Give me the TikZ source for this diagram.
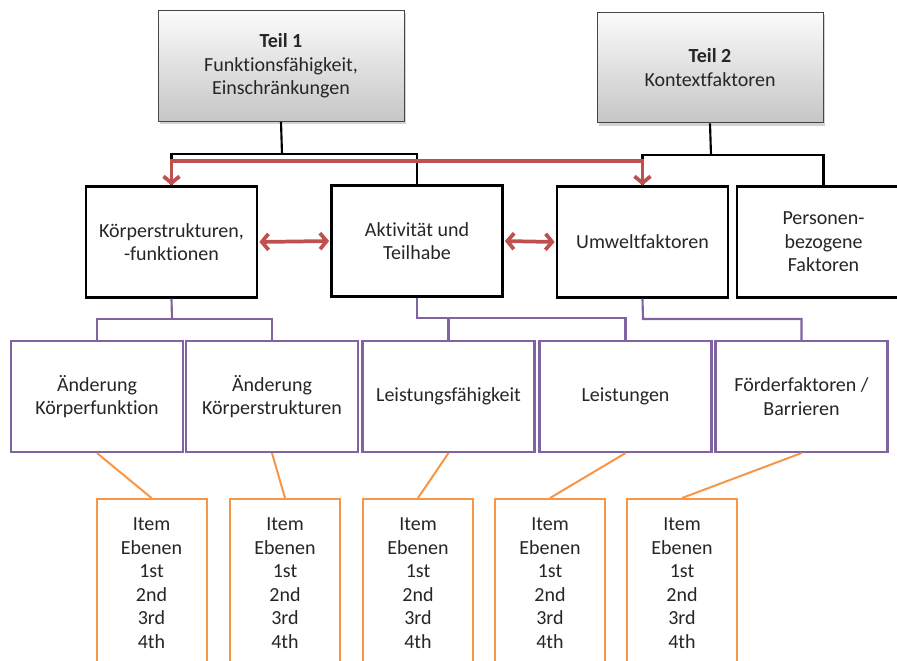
\documentclass[tikz,border=0pt]{standalone}
\usepackage{fontspec}
\setmainfont[Ligatures=NoCommon]{Carlito}
\usetikzlibrary{arrows.meta,positioning,shadows}
\definecolor{icfred}{HTML}{C0504D}
\definecolor{icfpurple}{HTML}{8064A2}
\definecolor{icforange}{HTML}{F79646}
\tikzset{
  headbox/.style={draw=gray!55!black, line width=0.7pt, top color=gray!3, bottom color=gray!45,
    minimum height=83pt, drop shadow={shadow xshift=1.5pt, shadow yshift=-2pt, opacity=0.35}},
  mainbox/.style={draw=black, line width=1.6pt, fill=white, minimum width=128.25pt, minimum height=83.25pt},
  subbox/.style={draw=icfpurple, line width=1.6pt, fill=white, minimum width=129pt, minimum height=83.25pt},
  itembox/.style={draw=icforange, line width=1.5pt, fill=white, minimum width=82.5pt, minimum height=126pt},
  blackline/.style={draw=black, line width=1.6pt},
  purpleline/.style={draw=icfpurple, line width=1.6pt},
  orangeline/.style={draw=icforange, line width=1.5pt},
  redlink/.style={draw=icfred, line width=2.8pt, {Straight Barb[length=5pt,width=12pt]}-{Straight Barb[length=5pt,width=12pt]}}
}
\begin{document}
\begin{tikzpicture}[x=0.75pt, y=-0.75pt, font=\fontsize{15}{17.6}\selectfont,
  every node/.style={text=black!85, align=center, inner sep=0pt}]
\useasboundingbox (0,0) rectangle (897,661);
\clip (0,0) rectangle (897,661);
% the two parts
\node[headbox, minimum width=184.5pt] (teil1) at (281,66) {\textbf{Teil 1}\\Funktionsfähigkeit,\\Einschränkungen};
\node[headbox, minimum width=169.5pt] (teil2) at (710,67.5) {\textbf{Teil 2}\\Kontextfaktoren};
% the components
\node[mainbox] (koerper) at (171.5,242) {Körperstrukturen,\\-funktionen};
\node[mainbox] (aktiv) at (417,241) {Aktivität und\\Teilhabe};
\node[mainbox] (umwelt) at (642.5,242) {Umweltfaktoren};
\node[mainbox, minimum width=130pt] (person) at (823.5,242) {Personen-\\bezogene\\Faktoren};
% the constructs
\foreach \i/\x/\txt in {1/97/{Änderung\\Körperfunktion}, 2/272/{Änderung\\Körperstrukturen},
    3/448.5/{Leistungsfähigkeit}, 4/625.5/{Leistungen}, 5/801.5/{Förderfaktoren /\\Barrieren}}
  {\node[subbox] (sub\i) at (\x,396.5) {\txt};}
% the item levels
\foreach \i/\x in {1/151.5, 2/285, 3/418, 4/550, 5/682}
  {\node[itembox] (item\i) at (\x,583) {Item\\Ebenen\\1st\\2nd\\3rd\\4th};}
% black tree
\coordinate (t1) at (282,154);
\coordinate (t2) at (711,155);
\draw[blackline] (teil1.south) -- (t1);
\draw[blackline] (koerper.north) |- (t1) -| (aktiv.north);
\draw[blackline] (teil2.south) -- (t2);
\draw[blackline] (umwelt.north) |- (t2) -| (person.north);
% purple tree
\coordinate (k1) at (172,319);
\coordinate (a1) at (417,318);
\coordinate (u1) at (643,319);
\draw[purpleline] (koerper.south) -- (k1);
\draw[purpleline] (sub1.north) |- (k1) -| (sub2.north);
\draw[purpleline] (aktiv.south) -- (a1) -| (sub4.north);
\draw[purpleline] (sub3.north) -- (sub3.north |- a1);
\draw[purpleline] (umwelt.south) -- (u1) -| (sub5.north);
% orange links
\foreach \i in {1,...,5} {\draw[orangeline] (sub\i.south) -- (item\i.north);}
% red links
\coordinate (r1) at (400,161);
\draw[redlink] (koerper.north) |- (r1) -| (umwelt.north);
\draw[redlink, shorten <=1pt, shorten >=1pt] (koerper.east) -- (aktiv.west);
\draw[redlink, shorten <=1pt, shorten >=1pt] (aktiv.east) -- (umwelt.west);
\end{tikzpicture}
\end{document}
